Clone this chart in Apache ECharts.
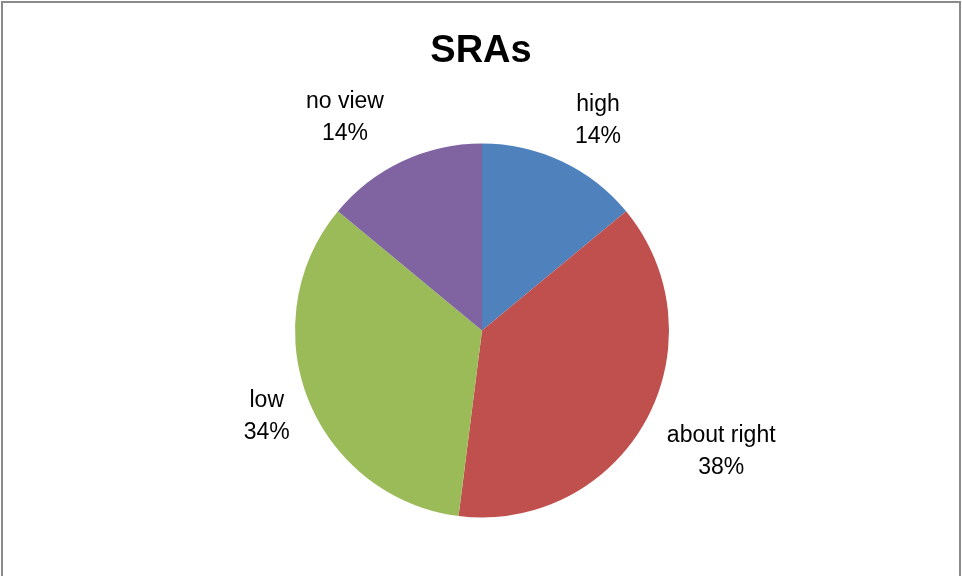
<!DOCTYPE html>
<html>
<head>
<meta charset="utf-8">
<title>SRAs</title>
<script src="https://cdn.jsdelivr.net/npm/echarts@6/dist/echarts.min.js"></script>
<style>
  html, body { margin: 0; padding: 0; background: #ffffff; }
  #chart { width: 962px; height: 576px; }
</style>
</head>
<body>
<div id="chart"></div>
<script>
// Survey answers on SRAs (share of respondents, %)
const categories = ['high', 'about right', 'low', 'no view'];
const shares = [14, 38, 34, 14];
const sliceColors = ['#4F81BD', '#C0504D', '#9BBB59', '#8064A2'];

// Pie geometry
const cx = 482, cy = 330.5, pieRadius = 187;
// Label placement around the pie: distance from centre and angular nudge (degrees)
const labelDist = [240, 268, 232, 253];
const labelTurn = [3.7, -2.0, -0.3, -7.6];

// Mid angle of each slice, measured clockwise from 12 o'clock
const total = shares.reduce((a, b) => a + b, 0);
const midAngles = [];
let acc = 0;
shares.forEach(v => {
  midAngles.push((acc + v / 2) / total * 360);
  acc += v;
});

const chart = echarts.init(document.getElementById('chart'), null, { renderer: 'canvas' });

chart.setOption({
  backgroundColor: '#ffffff',
  animation: false,
  title: {
    text: 'SRAs',
    left: 'center',
    top: 28,
    textStyle: {
      fontFamily: 'Liberation Sans',
      fontWeight: 'bold',
      fontSize: 38,
      color: '#000000'
    }
  },
  graphic: [{
    type: 'rect',
    shape: { x: 2, y: 2, width: 958, height: 700 },
    style: { fill: 'none', stroke: '#8a8a8a', lineWidth: 2 },
    silent: true
  }],
  series: [{
    type: 'pie',
    center: [cx, cy],
    radius: pieRadius,
    startAngle: 90,
    clockwise: true,
    avoidLabelOverlap: false,
    itemStyle: { borderWidth: 0 },
    emphasis: { disabled: true },
    label: {
      show: true,
      position: 'outside',
      formatter: '{b}\n{d}%',
      fontFamily: 'Liberation Sans',
      fontSize: 23,
      lineHeight: 32,
      color: '#000000'
    },
    labelLine: { show: false },
    labelLayout: function (p) {
      const i = p.dataIndex;
      const a = (midAngles[i] + labelTurn[i]) * Math.PI / 180;
      return {
        x: cx + labelDist[i] * Math.sin(a),
        y: cy - labelDist[i] * Math.cos(a),
        align: 'center',
        verticalAlign: 'middle'
      };
    },
    data: categories.map((name, i) => ({
      name: name,
      value: shares[i],
      itemStyle: { color: sliceColors[i] }
    }))
  }]
});
</script>
</body>
</html>
